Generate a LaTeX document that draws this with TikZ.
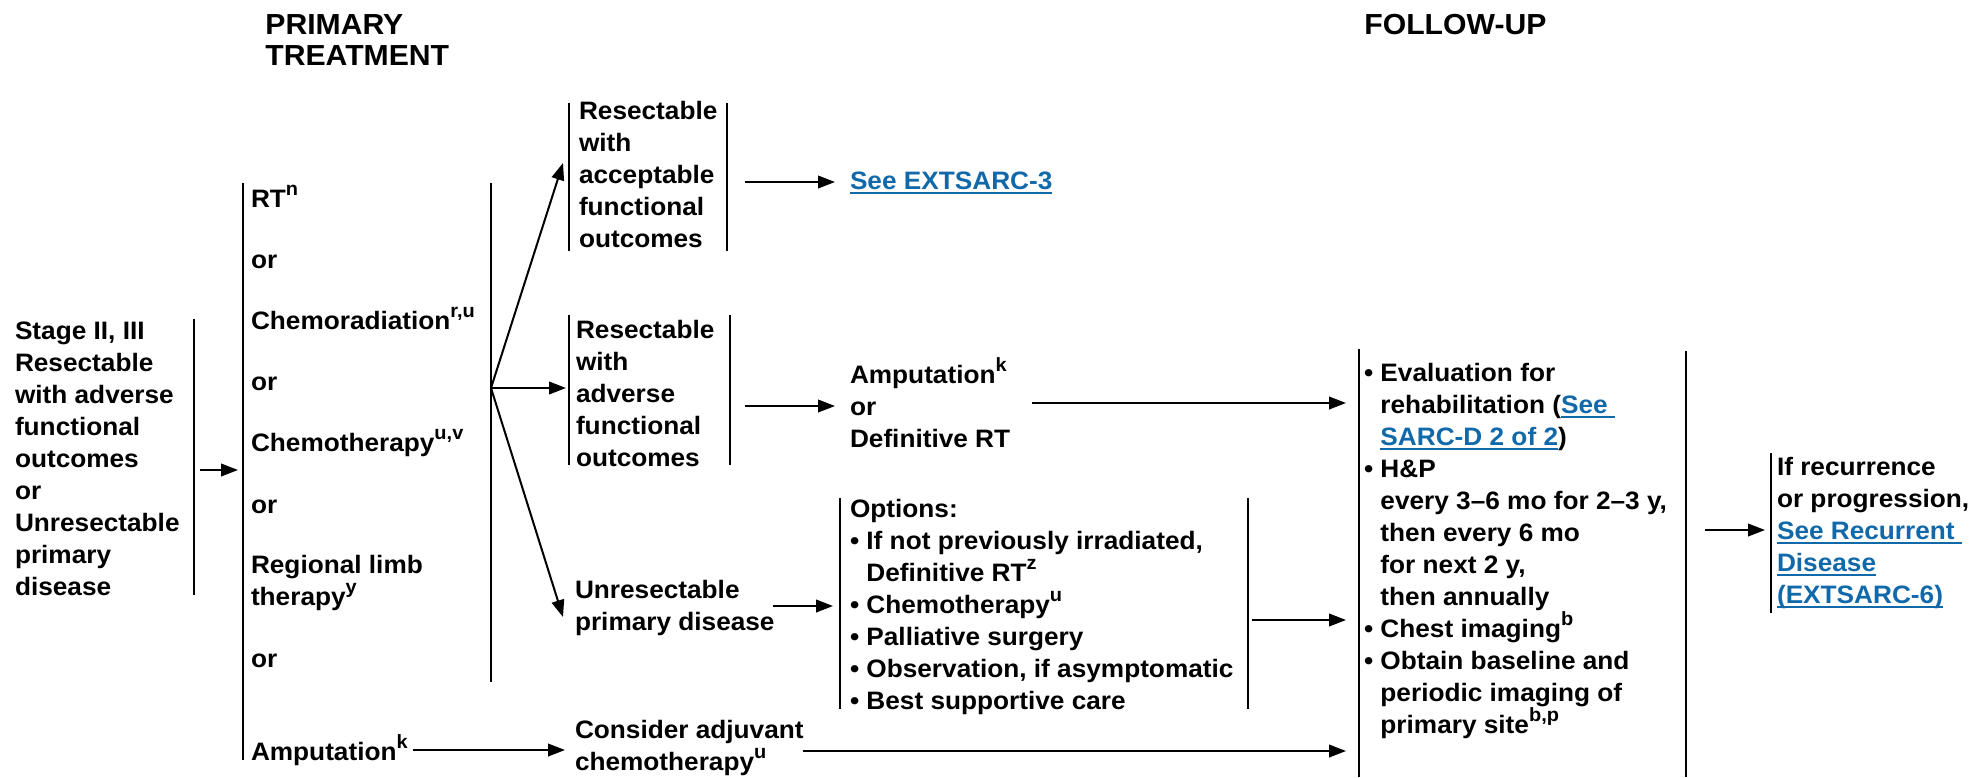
\documentclass[tikz,border=0pt]{standalone}
\usepackage{fontspec}
\setmainfont{Liberation Sans}[FakeStretch=1.04]
\usetikzlibrary{arrows.meta}
\definecolor{linkblue}{RGB}{17,105,170}
% footnote marks
\newcommand\ssup[1]{\raisebox{5.6pt}{\fontsize{9.6pt}{9.6pt}\selectfont #1}}
% underlined blue cross-reference
\newcommand\lnk[1]{{\color{linkblue}\setbox0\hbox{#1}\rlap{\rule[-2.6pt]{\wd0}{1pt}}\box0}}
\newcommand\bul{•\ }
\newcommand\ind{\hphantom{•\ }}
\begin{document}
% multi-line nodes are placed by the baseline of their last line
\begin{tikzpicture}[x=0.5pt,y=-0.5pt,
  txt/.style={anchor=base west, inner sep=0pt, outer sep=0pt, align=left,
    font=\fontsize{12.6pt}{16pt}\selectfont\bfseries},
  head/.style={anchor=base west, inner sep=0pt, align=left,
    font=\fontsize{14.5pt}{15.5pt}\selectfont\bfseries},
  bar/.style={line width=1.3pt},
  arr/.style={line width=1pt,-{Triangle[length=8.5pt,width=6.3pt]}}]
\useasboundingbox (0,0) rectangle (1973,777);

% column headings
\node[head] (hprim) at (265,65) {PRIMARY\\TREATMENT};
\node[head] (hfol) at (1364,34) {FOLLOW-UP};

% presentation
\node[txt] (stage) at (15,595) {Stage II, III\\Resectable\\with adverse\\functional\\outcomes\\or\\Unresectable\\primary\\disease};
\draw[bar] (194,319) -- (194,595);

% primary treatment options
\node[txt] (rt) at (251,207) {RT\ssup{n}};
\node[txt] (or1) at (251,268) {or};
\node[txt] (chrad) at (251,329) {Chemoradiation\ssup{r,u}};
\node[txt] (or2) at (251,390) {or};
\node[txt] (chemo) at (251,451) {Chemotherapy\ssup{u,v}};
\node[txt] (or3) at (251,513) {or};
\node[txt] (rlt) at (251,605) {Regional limb\\therapy\ssup{y}};
\node[txt] (or4) at (251,667) {or};
\node[txt] (amp) at (251,760) {Amputation\ssup{k}};
\draw[bar] (243,183) -- (243,760);
\draw[bar] (491,183) -- (491,682);

% resectability outcomes
\node[txt] (acc) at (579,247) {Resectable\\with\\acceptable\\functional\\outcomes};
\draw[bar] (569,103) -- (569,251);
\draw[bar] (727,103) -- (727,251);
\node[txt] (adv) at (576,466) {Resectable\\with\\adverse\\functional\\outcomes};
\draw[bar] (569,315) -- (569,465);
\draw[bar] (730,315) -- (730,465);
\node[txt] (unres) at (575,630) {Unresectable\\primary disease};
\node[txt] (adj) at (575,770) {Consider adjuvant\\chemotherapy\ssup{u}};

% next steps
\node[txt] (see3) at (850,189) {\lnk{See EXTSARC-3}};
\node[txt] (ampdef) at (850,447) {Amputation\ssup{k}\\or\\Definitive RT};
\node[txt] (opts) at (850,709) {Options:\\\bul If not previously irradiated,\\\ind Definitive RT\ssup{z}\\\bul Chemotherapy\ssup{u}\\\bul Palliative surgery\\\bul Observation, if asymptomatic\\\bul Best supportive care};
\draw[bar] (840,498) -- (840,709);
\draw[bar] (1248,498) -- (1248,709);

% follow-up
\node[txt] (fu) at (1364,733) {\bul Evaluation for\\\ind rehabilitation (\lnk{See }\\\ind \lnk{SARC-D 2 of 2})\\\bul H\&P\\\ind every 3–6 mo for 2–3 y,\\\ind then every 6 mo\\\ind for next 2 y,\\\ind then annually\\\bul Chest imaging\ssup{b}\\\bul Obtain baseline and\\\ind periodic imaging of\\\ind primary site\ssup{b,p}};
\draw[bar] (1359,349) -- (1359,777);
\draw[bar] (1686,351) -- (1686,777);

\node[txt] (rec) at (1777,603) {If recurrence\\or progression,\\\lnk{See Recurrent }\\\lnk{Disease}\\\lnk{(EXTSARC-6)}};
\draw[bar] (1771,453) -- (1771,613);

% connector end points
\coordinate (s0) at (200,470);   \coordinate (s1) at (238,470);
\coordinate (fork) at (491,388);
\coordinate (tacc) at (563,163); \coordinate (tadv) at (566,388);
\coordinate (tun) at (563,617);
\coordinate (a0) at (745,182);   \coordinate (a1) at (835,182);
\coordinate (b0) at (745,406);   \coordinate (b1) at (835,406);
\coordinate (b2) at (1032,403);  \coordinate (b3) at (1346,403);
\coordinate (u0) at (773,606);   \coordinate (u1) at (833,606);
\coordinate (o0) at (1252,620);  \coordinate (o1) at (1346,620);
\coordinate (m0) at (413,750);   \coordinate (m1) at (565,750);
\coordinate (c0) at (803,751);   \coordinate (c1) at (1346,751);
\coordinate (f0) at (1705,530);  \coordinate (f1) at (1765,530);

% connectors
\draw[arr] (s0) -- (s1);
\draw[arr] (fork) -- (tacc);
\draw[arr] (fork) -- (tadv);
\draw[arr] (fork) -- (tun);
\draw[arr] (a0) -- (a1);
\draw[arr] (b0) -- (b1);
\draw[arr] (b2) -- (b3);
\draw[arr] (u0) -- (u1);
\draw[arr] (o0) -- (o1);
\draw[arr] (m0) -- (m1);
\draw[arr] (c0) -- (c1);
\draw[arr] (f0) -- (f1);
\end{tikzpicture}
\end{document}
